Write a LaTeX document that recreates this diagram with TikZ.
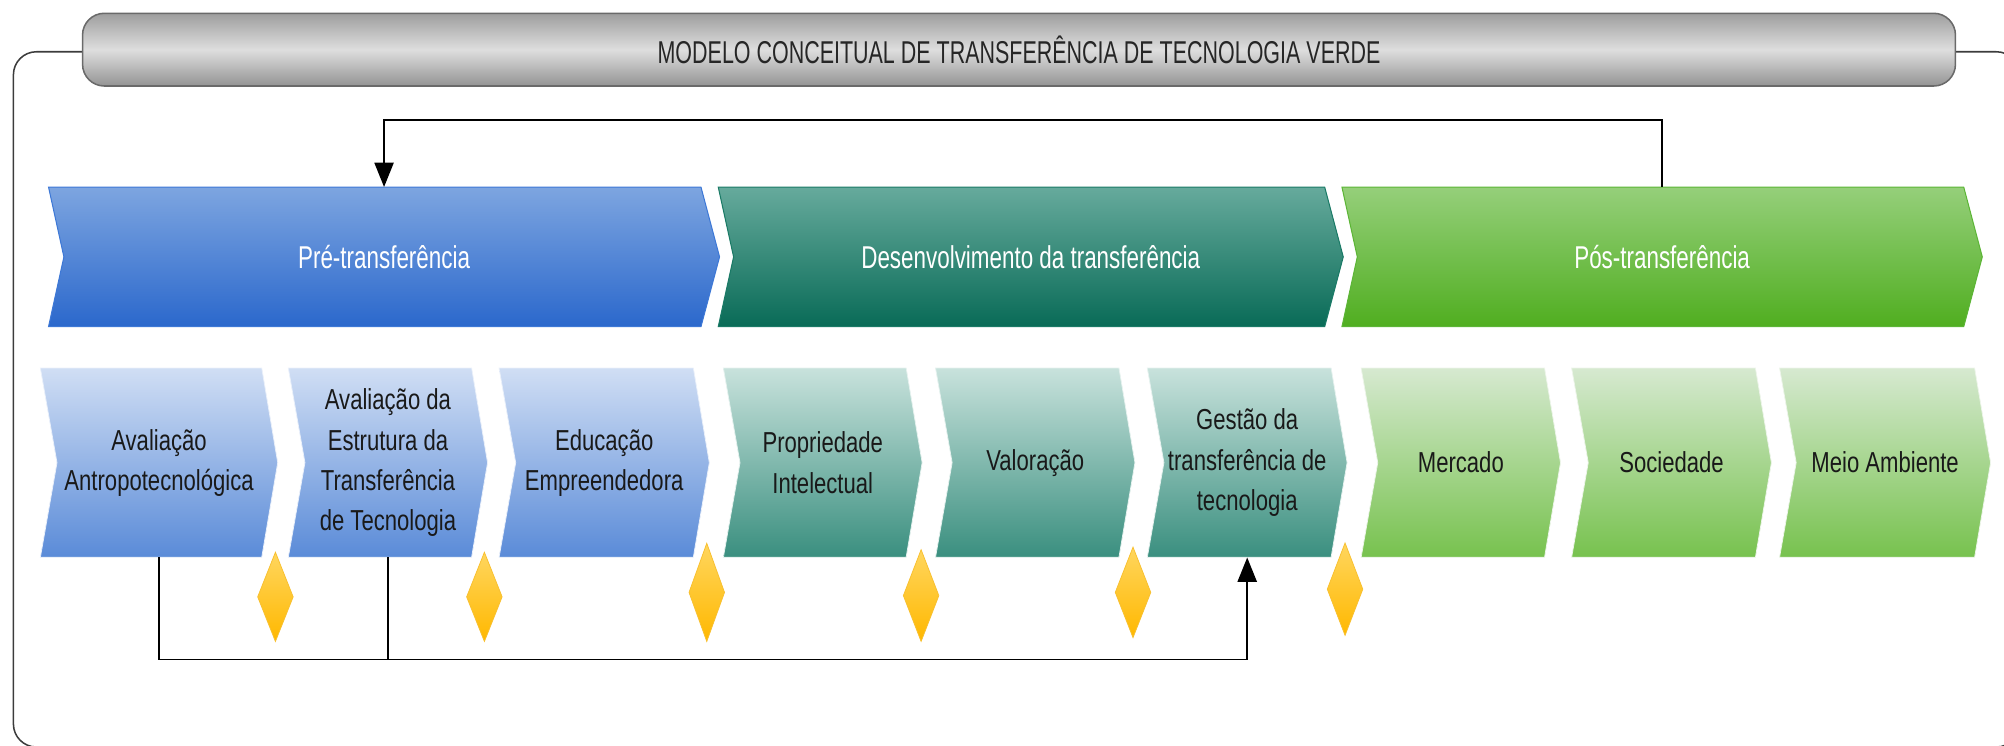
\documentclass[tikz,border=0pt]{standalone}
\usepackage{fontspec}
\setmainfont{Liberation Sans}
\newfontfamily\titlefont{Liberation Sans}[FakeStretch=0.68]
\newfontfamily\phasefont{Liberation Sans}[FakeStretch=0.71]
\newfontfamily\itemfont{Liberation Sans}[FakeStretch=0.765]
\usetikzlibrary{shapes.geometric,arrows.meta}

\definecolor{bluetop}{HTML}{7DA5E0}
\definecolor{bluebot}{HTML}{2B68CC}
\definecolor{blueedge}{HTML}{3D78D6}
\definecolor{tealtop}{HTML}{66AA9C}
\definecolor{tealbot}{HTML}{096B57}
\definecolor{tealedge}{HTML}{1A7A66}
\definecolor{greentop}{HTML}{95CF7A}
\definecolor{greenbot}{HTML}{50AE20}
\definecolor{greenedge}{HTML}{5CB536}
\definecolor{lbluetop}{HTML}{D0DEF4}
\definecolor{lbluebot}{HTML}{5A8BD8}
\definecolor{ltealtop}{HTML}{C8E2DC}
\definecolor{ltealbot}{HTML}{3A8F7F}
\definecolor{lgreentop}{HTML}{D6E9D0}
\definecolor{lgreenbot}{HTML}{77C24E}
\definecolor{gemtop}{HTML}{FFD65E}
\definecolor{gembot}{HTML}{FFB800}
\definecolor{gemedge}{HTML}{F8C030}
\definecolor{framecol}{HTML}{3C3C3C}
\definecolor{titleedge}{HTML}{6A6A6A}

\newcommand\chev[7]{%
  \shade[#7] (#1,#3) -- ({#2-#5},#3) -- (#2,{(#3+#4)/2}) -- ({#2-#5},#4)
    -- (#1,#4) -- ({#1+#6},{(#3+#4)/2}) -- cycle;}

\tikzset{
  phaseblue/.style={top color=bluetop, bottom color=bluebot, draw=blueedge, line width=0.8pt},
  phaseteal/.style={top color=tealtop, bottom color=tealbot, draw=tealedge, line width=0.8pt},
  phasegreen/.style={top color=greentop, bottom color=greenbot, draw=greenedge, line width=0.8pt},
  itemblue/.style={top color=lbluetop, bottom color=lbluebot, draw=white!55!lbluetop, line width=0.6pt},
  itemteal/.style={top color=ltealtop, bottom color=ltealbot, draw=white!55!ltealtop, line width=0.6pt},
  itemgreen/.style={top color=lgreentop, bottom color=lgreenbot, draw=white!55!lgreentop, line width=0.6pt},
  phasetext/.style={font=\phasefont\fontsize{24.7}{30}\selectfont, text=white, inner sep=0pt,
    minimum height=109pt},
  itemtext/.style={font=\itemfont\fontsize{22.6}{31.5}\selectfont, text=black!90, align=center,
    inner sep=0pt, minimum height=148pt},
  gem/.style={diamond, inner sep=0pt, minimum width=28pt, top color=gemtop, bottom color=gembot,
    draw=gemedge, line width=0.6pt},
  titlebox/.style={rounded corners=17pt, draw=titleedge, line width=1.2pt,
    top color=black!38, bottom color=black!42, middle color=black!13,
    minimum width=1465.4pt, minimum height=56.9pt, inner sep=0pt,
    font=\titlefont\fontsize{24.7}{30}\selectfont, text=black!85},
  conn/.style={draw=black, line width=1.3pt},
  arr/.style={conn, -{Triangle[width=15pt,length=19pt]}}
}

\begin{document}
\begin{tikzpicture}[x=1pt,y=-1pt]
\useasboundingbox (0,0) rectangle (1568,583);
\clip (0,0) rectangle (1568,583);

% outer frame
\draw[draw=framecol, line width=1.2pt, rounded corners=18pt] (10.5,40.5) rectangle (1580,584.5);

% title
\node[titlebox] (title) at (797.3,38.85) {MODELO CONCEITUAL DE TRANSFERÊNCIA DE TECNOLOGIA VERDE};

% phase chevrons
\chev{38}{563}{146.5}{255.5}{14.5}{12}{phaseblue}
\chev{562}{1051}{146.5}{255.5}{14.5}{12}{phaseteal}
\chev{1050}{1551}{146.5}{255.5}{14.5}{12}{phasegreen}
\node[phasetext, minimum width=525pt] (pre) at (300.5,201) {Pré-transferência};
\node[phasetext, minimum width=489pt] (des) at (806.5,201) {Desenvolvimento da transferência};
\node[phasetext, minimum width=501pt] (pos) at (1300.5,201) {Pós-transferência};

% item chevrons
\chev{31.6}{217.3}{288}{436}{12.5}{13}{itemblue}
\chev{225.6}{381.5}{288}{436}{12.5}{13}{itemblue}
\chev{390.5}{555}{288}{436}{12.5}{13}{itemblue}
\chev{566}{721.5}{288}{436}{12.5}{13}{itemteal}
\chev{732}{888}{288}{436}{12.5}{13}{itemteal}
\chev{897.7}{1054}{288}{436}{12.5}{13}{itemteal}
\chev{1065}{1221}{288}{436}{12.5}{13}{itemgreen}
\chev{1229.7}{1386}{288}{436}{12.5}{13}{itemgreen}
\chev{1392.4}{1557.5}{288}{436}{12.5}{13}{itemgreen}

\node[itemtext, minimum width=185.7pt] (b1) at (124.45,362) {Avaliação\\Antropotecnológica};
\node[itemtext, minimum width=155.9pt] (b2) at (303.55,362) {Avaliação da\\Estrutura da\\Transferência\\de Tecnologia};
\node[itemtext, minimum width=164.5pt] (b3) at (472.75,362) {Educação\\Empreendedora};
\node[itemtext, minimum width=155.5pt] (b4) at (643.75,362) {Propriedade\\Intelectual};
\node[itemtext, minimum width=156pt] (b5) at (810,362) {Valoração};
\node[itemtext, minimum width=156.3pt] (b6) at (975.85,362) {Gestão da\\transferência de\\tecnologia};
\node[itemtext, minimum width=156pt] (b7) at (1143,362) {Mercado};
\node[itemtext, minimum width=156.3pt] (b8) at (1307.85,362) {Sociedade};
\node[itemtext, minimum width=165.1pt] (b9) at (1474.95,362) {Meio Ambiente};

% diamonds
\node[gem, minimum height=70pt] (d1) at (215.5,467) {};
\node[gem, minimum height=70pt] (d2) at (379,467) {};
\node[gem, minimum height=77pt] (d3) at (553,463.5) {};
\node[gem, minimum height=72pt] (d4) at (720.7,466) {};
\node[gem, minimum height=71pt] (d5) at (886.5,463.5) {};
\node[gem, minimum height=72.5pt] (d6) at (1052.4,461) {};

% connectors
\coordinate (fb) at (0,94);
\coordinate (bl) at (0,516);
\draw[arr] (pos.north) -- (pos.north |- fb) -- (pre.north |- fb) -- (pre.north);
\draw[arr] (b1.south) -- (b1.south |- bl) -- (b6.south |- bl) -- (b6.south);
\draw[conn] (b2.south) -- (b2.south |- bl);
\end{tikzpicture}
\end{document}
